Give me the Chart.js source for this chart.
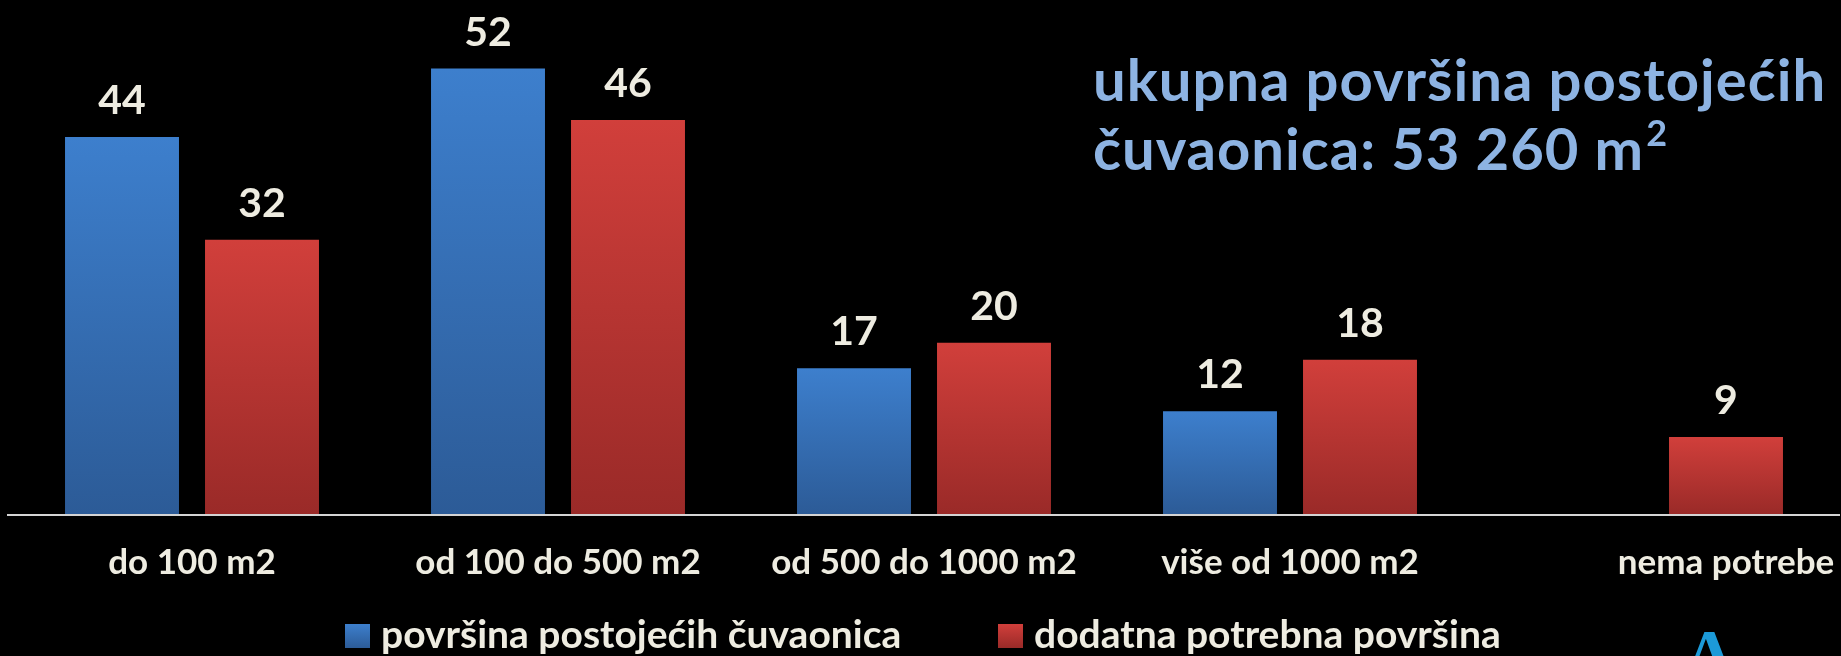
<!DOCTYPE html>
<html>
<head>
<meta charset="utf-8">
<script src="https://cdn.jsdelivr.net/npm/chart.js@4.4.1/dist/chart.umd.min.js"></script>
<style>
  html, body { margin: 0; padding: 0; background: #000; }
  #wrap { width: 1841px; height: 656px; position: relative; overflow: hidden; }
</style>
</head>
<body>
<div id="wrap"><canvas id="chart" width="1841" height="656"></canvas></div>
<script>
// ─── Data ───────────────────────────────────────────────────────────────────
const categories = ['do 100 m2', 'od 100 do 500 m2', 'od 500 do 1000 m2', 'više od 1000 m2', 'nema potrebe'];
const existingArea = [44, 52, 17, 12, null];
const neededArea = [32, 46, 20, 18, 9];
const seriesNames = ['površina postojećih čuvaonica', 'dodatna potrebna površina'];
const titleLines = ['ukupna površina postojećih', 'čuvaonica: 53 260 m'];
const titleSup = '2';
const yMax = 60;

// ─── Look ───────────────────────────────────────────────────────────────────
const FONT = 'Lato, "Open Sans", sans-serif';
const textColor = '#eeece1';
const titleColor = '#8db3e2';
const blue = ['#3d7fcd', '#2c5b97'];
const red = ['#d13f3b', '#9a2a28'];

function barFill(colors) {
  return c => {
    const chart = c.chart;
    if (c.type !== 'data' || !chart.chartArea || c.raw == null) return colors[0];
    const y = chart.scales.y;
    const g = chart.ctx.createLinearGradient(0, y.getPixelForValue(c.raw), 0, y.getPixelForValue(0));
    g.addColorStop(0, colors[0]);
    g.addColorStop(1, colors[1]);
    return g;
  };
}

// ─── Extra drawing: values, axis, category labels, legend, title ─────────────
const decor = {
  id: 'decor',
  afterDatasetsDraw(chart) {
    const ctx = chart.ctx;
    const area = chart.chartArea;
    ctx.save();

    // axis line
    ctx.strokeStyle = '#d4d4d4';
    ctx.lineWidth = 2;
    ctx.beginPath();
    ctx.moveTo(7, area.bottom + 1);
    ctx.lineTo(1840, area.bottom + 1);
    ctx.stroke();

    // value labels
    ctx.fillStyle = textColor;
    ctx.textAlign = 'center';
    ctx.textBaseline = 'alphabetic';
    ctx.font = `bold 41px ${FONT}`;
    chart.data.datasets.forEach((ds, di) => {
      chart.getDatasetMeta(di).data.forEach((el, i) => {
        if (ds.data[i] == null) return;
        ctx.fillText(String(ds.data[i]), el.x, el.y - 23);
      });
    });

    // category labels, centred over the bars that exist in each group
    ctx.font = `bold 35px ${FONT}`;
    categories.forEach((cat, i) => {
      const xs = [];
      chart.data.datasets.forEach((ds, di) => {
        if (ds.data[i] != null) xs.push(chart.getDatasetMeta(di).data[i].x);
      });
      const x = xs.reduce((a, b) => a + b, 0) / xs.length;
      ctx.fillText(cat, x, area.bottom + 60);
    });

    // legend
    ctx.textAlign = 'left';
    ctx.font = `bold 39px ${FONT}`;
    const palette = [blue, red];
    const boxStarts = [345, 998];
    seriesNames.forEach((name, i) => {
      const bx = boxStarts[i];
      const g = ctx.createLinearGradient(0, 624, 0, 648);
      g.addColorStop(0, palette[i][0]);
      g.addColorStop(1, palette[i][1]);
      ctx.fillStyle = g;
      ctx.fillRect(bx, 624, 25, 24);
      ctx.fillStyle = textColor;
      ctx.fillText(name, bx + 36, 648);
    });

    // title
    ctx.fillStyle = titleColor;
    ctx.font = `bold 58px ${FONT}`;
    ctx.letterSpacing = '1px';
    ctx.fillText(titleLines[0], 1093, 101);
    ctx.fillText(titleLines[1], 1093, 170);
    const w = ctx.measureText(titleLines[1]).width;
    ctx.font = `bold 36px ${FONT}`;
    ctx.fillText(titleSup, 1093 + w + 2, 146);
    ctx.letterSpacing = '0px';

    // logo fragment, bottom right
    ctx.fillStyle = '#1c9ad8';
    ctx.font = `bold 70px "Liberation Serif", serif`;
    ctx.fillText('A', 1684, 678);

    ctx.restore();
  }
};

// ─── Chart ──────────────────────────────────────────────────────────────────
new Chart(document.getElementById('chart').getContext('2d'), {
  type: 'bar',
  data: {
    labels: categories,
    datasets: [
      { label: seriesNames[0], data: existingArea, backgroundColor: barFill(blue), borderWidth: 0 },
      { label: seriesNames[1], data: neededArea, backgroundColor: barFill(red), borderWidth: 0 },
    ],
  },
  options: {
    responsive: false,
    animation: false,
    categoryPercentage: 0.765,
    barPercentage: 0.814,
    layout: { padding: { left: 9, right: 2, top: 0, bottom: 142 } },
    plugins: { legend: { display: false }, tooltip: { enabled: false } },
    scales: {
      x: { display: false },
      y: { display: false, min: 0, max: yMax },
    },
  },
  plugins: [decor],
});
</script>
</body>
</html>
